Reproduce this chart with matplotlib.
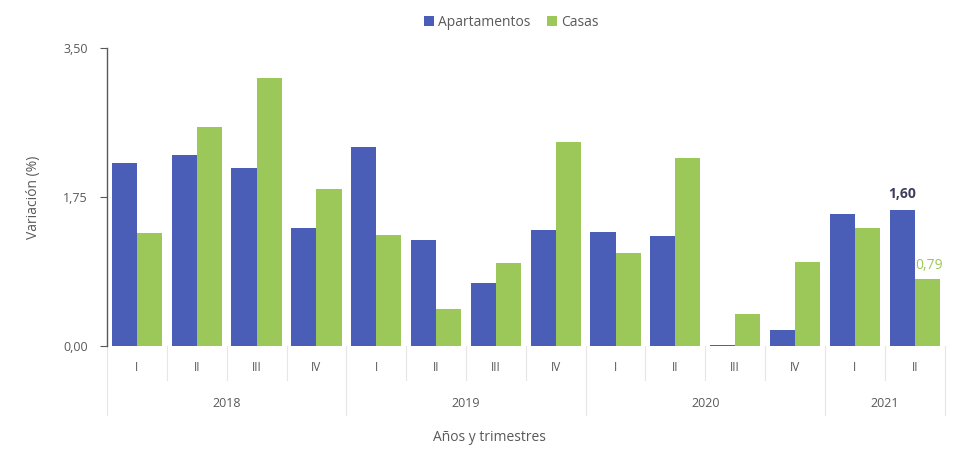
import matplotlib.pyplot as plt
import numpy as np

plt.rcParams['font.family'] = ['Open Sans', 'DejaVu Sans']

years = ["2018", "2019", "2020", "2021"]
quarters = ["I", "II", "III", "IV", "I", "II", "III", "IV", "I", "II", "III", "IV", "I", "II"]
quarters_per_year = [4, 4, 4, 2]
apartamentos = [2.15, 2.24, 2.09, 1.39, 2.34, 1.24, 0.74, 1.36, 1.34, 1.29, 0.01, 0.18, 1.55, 1.60]
casas = [1.33, 2.57, 3.15, 1.84, 1.30, 0.43, 0.98, 2.40, 1.09, 2.21, 0.37, 0.99, 1.39, 0.79]

blue = "#4A5EB8"
green = "#9CC85A"
gray = "#595959"
sep = "#e6e6e6"

fig = plt.figure(figsize=(9.66, 4.49), dpi=100)
ax = fig.add_axes([0.1108, 0.230, 0.867, 0.662])

x = np.arange(len(quarters))
w = 0.42
ax.bar(x - w / 2, apartamentos, w, color=blue, label="Apartamentos")
ax.bar(x + w / 2, casas, w, color=green, label="Casas")

ax.set_xlim(-0.5, len(quarters) - 0.5)
ax.set_ylim(0, 3.5)
ax.set_yticks([0, 1.75, 3.5])
ax.set_yticklabels(["0,00", "1,75", "3,50"])
ax.tick_params(axis="y", length=5, color=gray, labelcolor=gray, labelsize=9, pad=9)
ax.set_xticks([])

for s in ["top", "right", "bottom"]:
    ax.spines[s].set_visible(False)
ax.spines["left"].set_color(gray)
ax.spines["left"].set_linewidth(1.0)

trans = ax.get_xaxis_transform()
# quarter labels
for i, q in enumerate(quarters):
    ax.text(i, -0.072, q, transform=trans, ha="center", va="center",
            fontsize=8.5, color=gray)

# year labels and separators
start = 0
year_edges = [-0.5]
for yr, n in zip(years, quarters_per_year):
    center = start + (n - 1) / 2
    ax.text(center, -0.196, yr, transform=trans, ha="center", va="center",
            fontsize=9, color=gray)
    start += n
    year_edges.append(start - 0.5)

for e in np.arange(-0.5, len(quarters), 1.0):
    bottom = -0.233 if e in year_edges else -0.115
    ax.plot([e, e], [0, bottom], transform=trans, color=sep, lw=0.8, clip_on=False)

# labels on last pair
ax.text(13 - w / 2, 1.70, "1,60", ha="center", va="bottom", fontsize=10,
        fontweight="bold", color="#3b3f5c")
ax.text(13 + w / 2 + 0.03, 0.95, "0,79", ha="center", va="center", fontsize=10,
        color=green)

ax.set_ylabel("Variación (%)", fontsize=10, color=gray, labelpad=16)
fig.text(0.507, 0.025, "Años y trimestres", ha="center", va="center", fontsize=10, color=gray)

fig.legend(loc="center", bbox_to_anchor=(0.529, 0.951), ncol=2, frameon=False,
           handlelength=0.7, handleheight=0.7, handletextpad=0.3, columnspacing=1.2,
           fontsize=10, labelcolor=gray)

fig.savefig("out.png", dpi=100)
